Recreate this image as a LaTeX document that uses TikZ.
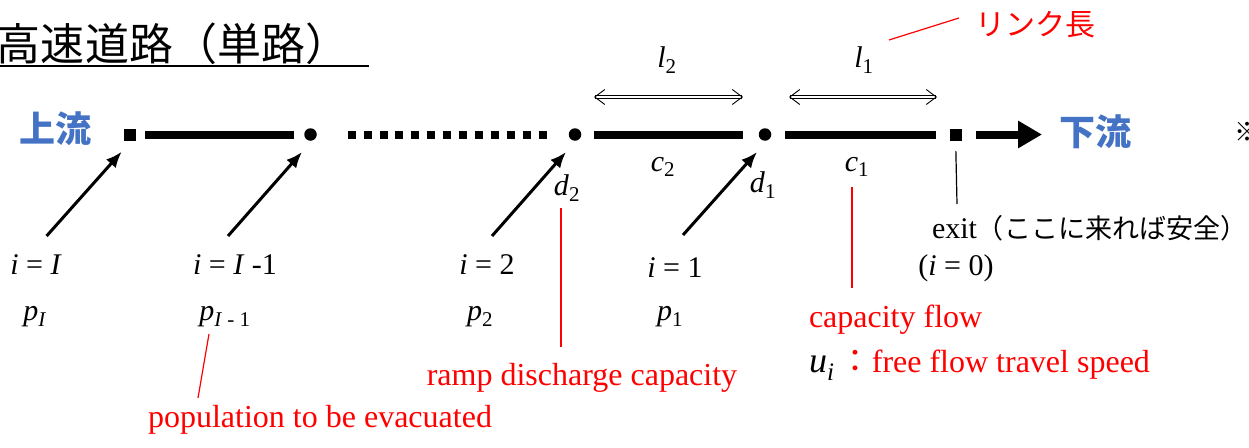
\documentclass[tikz,border=0pt]{standalone}
\usepackage{fontspec}
\setmainfont{Liberation Serif}
\newfontfamily\jp{Noto Sans CJK JP}
\usetikzlibrary{arrows.meta}
\definecolor{ublue}{HTML}{4472C4}
\definecolor{ured}{HTML}{FF0000}
\newcommand\sbv[2]{\textit{#1}\textsubscript{#2}}
\begin{document}
\begin{tikzpicture}[x=1pt,y=-1pt,
  every node/.style={inner sep=0pt, outer sep=0pt},
  blk/.style={font=\fontsize{30}{34}\selectfont},
  redt/.style={text=ured,font=\fontsize{32}{36}\selectfont},
  flow/.style={text=ublue,font=\jp\bfseries\fontsize{36}{40}\selectfont},
  sqnode/.style={fill=black, minimum size=12pt, rectangle},
  dotnode/.style={fill=black, circle, minimum size=12.5pt},
  road/.style={line width=8pt},
  ramp/.style={line width=3pt, -{Latex[length=16pt,width=13pt]}},
  dimarrow/.style={double, double distance=1.8pt, line width=0.9pt, {Straight Barb[length=10pt,width=15pt]}-{Straight Barb[length=10pt,width=15pt]}},
  leader/.style={ured, line width=1.2pt},
]
\useasboundingbox (0,0) rectangle (1249,447);

% title
\node[anchor=base west, font=\jp\fontsize{44}{48}\selectfont] (title) at (-3,60) {高速道路（単路）};
\coordinate (ulA) at (0,66);
\coordinate (ulB) at (369,66);
\draw[line width=1.5pt] (ulA) -- (ulB);

% upstream / downstream
\node[flow] (up) at (55,129) {上流};
\node[flow] (down) at (1095,132) {下流};
\node[font=\jp\fontsize{26}{30}\selectfont] (kome) at (1247,132) {※};

% road nodes
\node[sqnode] (nI) at (129.5,134.5) {};
\node[dotnode] (nI1) at (310.5,134.5) {};
\node[dotnode] (n2) at (575,134.5) {};
\node[dotnode] (n1) at (765,134.5) {};
\node[sqnode] (n0) at (955.5,134.5) {};
\coordinate (downend) at (1042,134.5);

\draw[road, shorten <=9.5pt, shorten >=10pt] (nI) -- (nI1);
\draw[road, dash pattern=on 8pt off 7.9pt, shorten <=31pt, shorten >=22pt] (nI1) -- (n2);
\draw[road, shorten <=12.75pt, shorten >=15.75pt] (n2) -- (n1);
\draw[road, shorten <=13.75pt, shorten >=13.5pt] (n1) -- (n0);
\draw[road, shorten <=14.5pt, -{Triangle[length=24pt,width=26pt]}] (n0) -- (downend);

% ramps
\coordinate (tailI) at (46.6,236);  \coordinate (tipI) at (121.7,151.7);
\coordinate (tailI1) at (228,236);  \coordinate (tipI1) at (302,152);
\coordinate (tail2) at (492,236);   \coordinate (tip2) at (566,152);
\coordinate (tail1) at (683,235);   \coordinate (tip1) at (757,152);
\draw[ramp] (tailI) -- (tipI);
\draw[ramp] (tailI1) -- (tipI1);
\draw[ramp] (tail2) -- (tip2);
\draw[ramp] (tail1) -- (tip1);

% link length arrows
\coordinate (l2a) at (594,97); \coordinate (l2b) at (743,97);
\coordinate (l1a) at (789,97); \coordinate (l1b) at (937,97);
\draw[dimarrow] (l2a) -- (l2b);
\draw[dimarrow] (l1a) -- (l1b);
\node[blk] (ll2) at (667,60) {\sbv{l}{2}};
\node[blk] (ll1) at (864,60) {\sbv{l}{1}};

% labels
\node[blk] (c2) at (663,167) {\sbv{c}{2}};
\node[blk] (c1) at (857,167) {\sbv{c}{1}};
\node[blk] (d2) at (567,188) {\sbv{d}{2}};
\node[blk] (d1) at (763,185) {\sbv{d}{1}};

\node[blk] (lI) at (36,265) {\textit{i} = \textit{I}};
\node[blk] (lI1) at (235,265) {\textit{i} = \textit{I} -1};
\node[blk] (l2) at (487,265) {\textit{i} = 2};
\node[blk] (l1) at (675,268) {\textit{i} = 1};
\node[blk] (l0) at (956,268) {(\textit{i} = 0)};
\node[blk] (pI) at (35,317) {\sbv{p}{\textit{I}}};
\node[blk] (pI1) at (225,317) {\sbv{p}{\textit{I} - 1}};
\node[blk] (p2) at (480,317) {\sbv{p}{2}};
\node[blk] (p1) at (670,317) {\sbv{p}{1}};

% exit
\coordinate (exitBot) at (957,204);
\draw[line width=1.2pt, shorten <=10.5pt] (n0) -- (exitBot);
\node[blk, anchor=west] (exit) at (932,228) {exit{\jp\fontsize{27}{30}\selectfont （ここに来れば安全）}};

% red annotations
\node[redt, font=\jp\fontsize{30}{34}\selectfont] (linklen) at (1035,25) {リンク長};
\coordinate (llA) at (889,40); \coordinate (llB) at (959,18);
\draw[leader] (llA) -- (llB);

\node[redt, anchor=west] (capflow) at (809,320) {capacity flow};
\node[redt, anchor=west] (speed) at (809,365) {\textcolor{black}{\fontsize{36}{38}\selectfont\textit{u}\textsubscript{\textit{i}}}\,{\jp：}free flow travel speed};
\coordinate (cfA) at (852,187); \coordinate (cfB) at (852,288);
\draw[leader] (cfA) -- (cfB);

\node[redt] (rampcap) at (582,378) {ramp discharge capacity};
\coordinate (rcA) at (561,208); \coordinate (rcB) at (561,347);
\draw[leader] (rcA) -- (rcB);

\node[redt] (pop) at (320,420) {population to be evacuated};
\coordinate (ppA) at (209,334); \coordinate (ppB) at (198,398);
\draw[leader] (ppA) -- (ppB);
\end{tikzpicture}
\end{document}
